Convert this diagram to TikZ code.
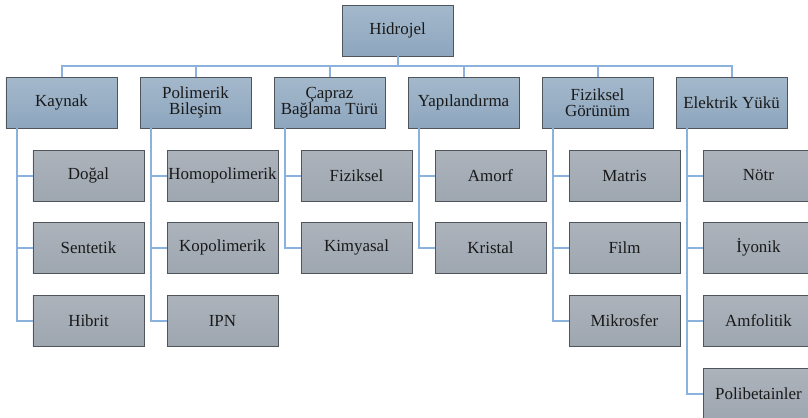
\documentclass[tikz,border=0pt]{standalone}
\usepackage{fontspec}
\setmainfont{Liberation Serif}
\newfontfamily\boxfont{Liberation Serif}
\usetikzlibrary{positioning}
\definecolor{connc}{HTML}{8AB2DD}
\definecolor{edgec}{HTML}{50555B}
\definecolor{ctop}{HTML}{A4B8CB}
\definecolor{cbot}{HTML}{8DA6BE}
\definecolor{ktop}{HTML}{ACB3BB}
\definecolor{kbot}{HTML}{9EA6B0}
\tikzset{
  box/.style={draw=edgec, line width=0.8bp, minimum width=111bp, minimum height=51bp,
    inner sep=0bp, align=center, text=black!90,
    font=\boxfont\fontsize{17}{16}\selectfont},
  catbox/.style={box, top color=ctop, bottom color=cbot},
  kidbox/.style={box, top color=ktop, bottom color=kbot},
  conn/.style={draw=connc, line width=2bp}
}
\begin{document}
\begin{tikzpicture}[x=1bp,y=-1bp]
\useasboundingbox (0,0) rectangle (808,417);
\clip (0,0) rectangle (808,417);
\node[catbox] (top) at (397.5,30.5) {Hidrojel};
% categories
\node[catbox] (c1) at (61.5,102.5) {Kaynak};
\node[catbox] (c2) at (195.5,102.5) {Polimerik\\Bileşim};
\node[catbox] (c3) at (329.5,102.5) {Çapraz\\Bağlama Türü};
\node[catbox] (c4) at (463.5,102.5) {Yapılandırma};
\node[catbox] (c5) at (597.5,102.5) {Fiziksel\\Görünüm};
\node[catbox] (c6) at (731.5,102.5) {Elektrik Yükü};
% bus
\foreach \c in {c1,c2,c3,c4,c5,c6}{
  \draw[conn] (\c.north) -- ++(0,-11) -| (top.south);
}
% children
\node[kidbox] (a1) at (88.5,175.5) {Doğal};
\node[kidbox] (a2) at (88.5,247.5) {Sentetik};
\node[kidbox] (a3) at (88.5,320.5) {Hibrit};
\node[kidbox] (b1) at (222.5,175.5) {Homopolimerik};
\node[kidbox] (b2) at (222.5,247.5) {Kopolimerik};
\node[kidbox] (b3) at (222.5,320.5) {IPN};
\node[kidbox] (d1) at (356.5,175.5) {Fiziksel};
\node[kidbox] (d2) at (356.5,247.5) {Kimyasal};
\node[kidbox] (e1) at (490.5,175.5) {Amorf};
\node[kidbox] (e2) at (490.5,247.5) {Kristal};
\node[kidbox] (f1) at (624.5,175.5) {Matris};
\node[kidbox] (f2) at (624.5,247.5) {Film};
\node[kidbox] (f3) at (624.5,320.5) {Mikrosfer};
\node[kidbox] (g1) at (758.5,175.5) {Nötr};
\node[kidbox] (g2) at (758.5,247.5) {İyonik};
\node[kidbox] (g3) at (758.5,320.5) {Amfolitik};
\node[kidbox] (g4) at (758.5,393.5) {Polibetainler};
% branch connectors
\foreach \c/\k in {c1/a1,c1/a2,c1/a3,c2/b1,c2/b2,c2/b3,c3/d1,c3/d2,c4/e1,c4/e2,c5/f1,c5/f2,c5/f3,c6/g1,c6/g2,c6/g3,c6/g4}{
  \draw[conn] ([xshift=-44.5bp]\c.south) |- (\k.west);
}
\end{tikzpicture}
\end{document}
